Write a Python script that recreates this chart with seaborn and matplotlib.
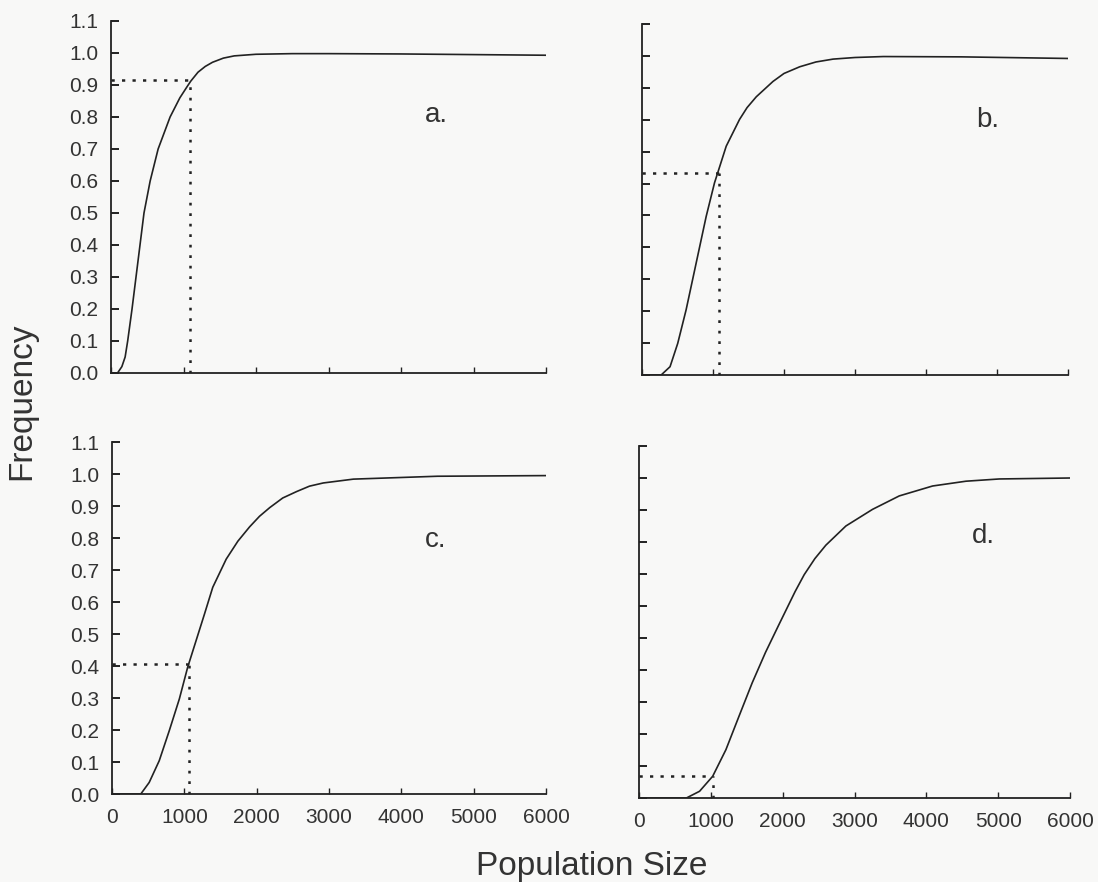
import numpy as np
import pandas as pd
import matplotlib
matplotlib.use("Agg")
import matplotlib.pyplot as plt
import seaborn as sns

# ---- data ----
panel_labels = ["a.", "b.", "c.", "d."]

a_x = [0, 90, 150, 195, 230, 290, 345, 400, 455, 540, 650, 815, 950, 1050, 1100, 1200, 1300, 1400, 1550, 1700, 2000, 2500, 3000, 4000, 5000, 6000]
a_y = [0.0, 0.0, 0.02, 0.05, 0.10, 0.20, 0.30, 0.40, 0.50, 0.60, 0.70, 0.80, 0.86, 0.895, 0.912, 0.94, 0.958, 0.971, 0.984, 0.991, 0.996, 0.998, 0.998, 0.997, 0.995, 0.993]

b_x = [0, 270, 395, 503, 621, 763, 904, 1021, 1186, 1374, 1480, 1610, 1845, 2000, 2222, 2450, 2692, 3000, 3399, 4500, 6000]
b_y = [0.0, 0.0, 0.026, 0.099, 0.204, 0.351, 0.497, 0.602, 0.717, 0.801, 0.838, 0.872, 0.920, 0.945, 0.966, 0.981, 0.990, 0.995, 0.998, 0.997, 0.992]

c_x = [0, 398, 514, 653, 792, 931, 1046, 1162, 1278, 1393, 1579, 1740, 1903, 2040, 2181, 2360, 2551, 2730, 2921, 3338, 4500, 6000]
c_y = [0.0, 0.0, 0.036, 0.104, 0.198, 0.297, 0.396, 0.479, 0.562, 0.646, 0.734, 0.790, 0.835, 0.868, 0.895, 0.925, 0.945, 0.962, 0.972, 0.984, 0.993, 0.995]

d_x = [0, 660, 843, 1026, 1210, 1393, 1576, 1761, 1944, 2173, 2300, 2448, 2601, 2880, 3251, 3623, 4087, 4552, 5016, 6000]
d_y = [0.0, 0.0, 0.021, 0.068, 0.151, 0.256, 0.360, 0.455, 0.540, 0.645, 0.698, 0.748, 0.790, 0.850, 0.902, 0.944, 0.975, 0.990, 0.997, 1.0]

# dotted guide points (population ~1000, frequency read on the curve)
guide_x = [1090, 1090, 1060, 1026]
guide_y = [0.917, 0.633, 0.406, 0.068]

# label positions (data coords)
label_x = [4331, 4708, 4325, 4634]
label_y = [0.784, 0.776, 0.773, 0.797]

xticks = [0, 1000, 2000, 3000, 4000, 5000, 6000]
xtick_labels = ["0", "1000", "2000", "3000", "4000", "5000", "6000"]
yticks = [0.0, 0.1, 0.2, 0.3, 0.4, 0.5, 0.6, 0.7, 0.8, 0.9, 1.0, 1.1]
ytick_labels = ["0.0", "0.1", "0.2", "0.3", "0.4", "0.5", "0.6", "0.7", "0.8", "0.9", "1.0", "1.1"]

curves = [(a_x, a_y), (b_x, b_y), (c_x, c_y), (d_x, d_y)]

# ---- styling ----
sns.set_theme(style="ticks")
plt.rcParams["font.family"] = ["Liberation Sans", "DejaVu Sans"]

bg = "#f8f8f7"
ink = "#222222"

W, H = 1098, 882
fig = plt.figure(figsize=(W / 100, H / 100), dpi=100, facecolor=bg)

# axes rectangles in pixels: (left, top, right, bottom)
rects = [
    (111, 21, 546, 373),
    (642, 24, 1068, 375),
    (112, 442, 546, 794),
    (639, 446, 1070, 798),
]

for i, (l, t, r, b) in enumerate(rects):
    ax = fig.add_axes([l / W, 1 - b / H, (r - l) / W, (b - t) / H])
    ax.set_facecolor(bg)
    cx, cy = curves[i]
    df = pd.DataFrame({"Population Size": cx, "Frequency": cy})
    sns.lineplot(data=df, x="Population Size", y="Frequency", ax=ax,
                 color=ink, lw=1.2, estimator=None, sort=False)
    gx, gy = guide_x[i], guide_y[i]
    ax.plot([0, gx], [gy, gy], color=ink, lw=1.8, ls=(0, (1.3, 2.9)), dash_capstyle="butt")
    ax.plot([gx, gx], [0, gy], color=ink, lw=1.8, ls=(0, (1.1, 3.1)), dash_capstyle="butt")
    ax.set_xlim(0, 6000)
    ax.set_ylim(0, 1.1)
    ax.set_xticks(xticks)
    ax.set_yticks(yticks)
    for s in ["top", "right"]:
        ax.spines[s].set_visible(False)
    for s in ["left", "bottom"]:
        ax.spines[s].set_color(ink)
        ax.spines[s].set_linewidth(1.3)
    ax.tick_params(axis="y", direction="in", length=6, width=1.4, color=ink,
                   labelsize=15, labelcolor="#333333", pad=9)
    ax.tick_params(axis="x", direction="in", length=4, width=1.0, color=ink,
                   labelsize=15, labelcolor="#333333", pad=10)
    if i in (0, 2):
        ax.set_yticklabels(ytick_labels)
    else:
        ax.set_yticklabels([])
    if i in (2, 3):
        ax.set_xticklabels(xtick_labels)
    else:
        ax.set_xticklabels([])
    ax.set_xlabel("")
    ax.set_ylabel("")
    ax.text(label_x[i], label_y[i], panel_labels[i], fontsize=20, color="#333333",
            ha="left", va="baseline")

fig.text(22 / W, 1 - 401 / H, "Frequency", rotation=90, fontsize=24,
         color="#333333", ha="center", va="center")
fig.text(592 / W, 1 - 866 / H, "Population Size", fontsize=24,
         color="#333333", ha="center", va="center")

fig.savefig("out.png", dpi=100, facecolor=bg)
